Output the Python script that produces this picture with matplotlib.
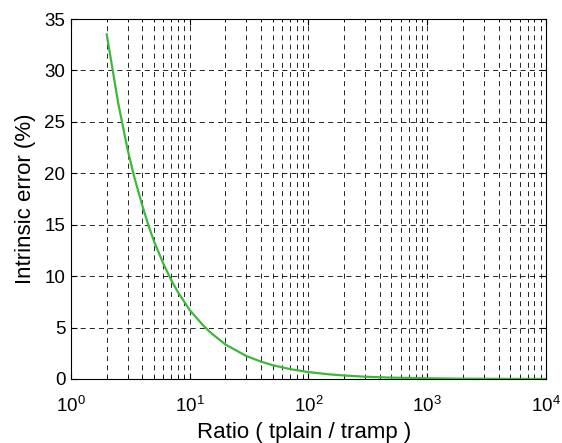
import numpy as np
import matplotlib
matplotlib.use('Agg')
import matplotlib.pyplot as plt
from matplotlib.ticker import LogLocator

plt.rcParams['font.family'] = ['Liberation Sans', 'DejaVu Sans']
plt.rcParams['mathtext.fontset'] = 'custom'
plt.rcParams['mathtext.rm'] = 'Liberation Sans'
plt.rcParams['mathtext.it'] = 'Liberation Sans'

# values
ratio = [2, 2.5, 3, 3.4, 4, 4.5, 5, 6, 7, 8, 10, 13, 15, 20, 30, 40, 50, 70,
         100, 150, 200, 300, 500, 700, 1000, 2000, 5000, 10000]
error = [33.5, 26.8, 22.3, 19.7, 16.8, 14.9, 13.4, 11.2, 9.6, 8.4, 6.7, 5.2,
         4.5, 3.35, 2.23, 1.68, 1.34, 0.96, 0.67, 0.45, 0.34, 0.22, 0.13,
         0.1, 0.07, 0.03, 0.01, 0.007]

yticks = [0, 5, 10, 15, 20, 25, 30, 35]

fig = plt.figure(figsize=(5.62, 4.43), dpi=100)
ax = fig.add_axes([0.1263, 0.1445, 0.8452, 0.8126])

ax.plot(ratio, error, color='#3db83a', lw=1.6, zorder=3)

ax.set_xscale('log')
ax.set_xlim(1, 1e4)
ax.set_ylim(0, 35)
ax.set_yticks(yticks)
ax.xaxis.set_major_locator(LogLocator(base=10, numticks=10))
ax.xaxis.set_minor_locator(LogLocator(base=10, subs=np.arange(2, 10), numticks=20))

gkw = dict(color='black', lw=0.6, dashes=(6, 5))
ax.grid(True, which='major', axis='both', **gkw)
ax.grid(True, which='minor', axis='x', **gkw)

ax.tick_params(which='both', direction='in', labelsize=13.5, top=True, right=True)
ax.tick_params(which='major', length=4)
ax.tick_params(which='minor', length=2)
ax.tick_params(axis='x', which='major', pad=12)
ax.tick_params(axis='y', which='major', pad=4)
for s in ax.spines.values():
    s.set_linewidth(0.8)

ax.set_xlabel('Ratio ( tplain / tramp )', fontsize=16)
ax.xaxis.set_label_coords(0.49, -0.12)
ax.set_ylabel('Intrinsic error (%)', fontsize=16, labelpad=6)

fig.savefig('out.png', dpi=100)
